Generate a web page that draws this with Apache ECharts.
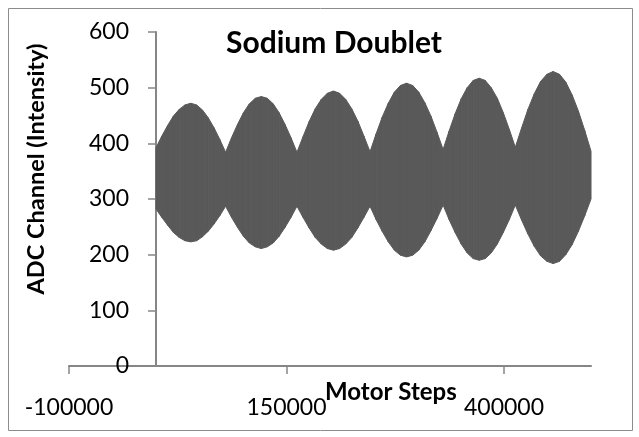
<!DOCTYPE html>
<html>
<head>
<meta charset="utf-8">
<script src="https://cdn.jsdelivr.net/npm/echarts@6/dist/echarts.min.js"></script>
<style>
html,body{margin:0;padding:0;background:#fff;}
#chart{width:639px;height:437px;}
</style>
</head>
<body>
<div id="chart"></div>
<script>
// Motor step positions sampled along the recorded envelope
const steps = [
  0, 6667, 13333, 20000, 26667, 33333, 40000, 46667, 53333, 60000, 66667, 73333, 80000,
  86800, 93700, 100500, 107300, 114200, 121000, 127800, 134700, 141500, 148300, 155200, 162000,
  169000, 176000, 183000, 190000, 197000, 204000, 211000, 218000, 225000, 232000, 239000, 246000,
  253000, 260000, 267000, 274000, 281000, 288000, 295000, 302000, 309000, 316000, 323000, 330000,
  336900, 343800, 350800, 357700, 364600, 371500, 378400, 385300, 392300, 399200, 406100, 413000,
  420300, 427500, 434800, 442000, 449300, 456500, 463800, 471000, 478300, 485500, 492800, 500000
];
// Upper edge of the ADC readings (intensity)
const upperEnv = [
  392, 413, 432, 449, 461, 469, 472, 469, 460, 446, 428, 407, 384,
  410, 434, 455, 471, 481, 484, 481, 471, 455, 434, 410, 384,
  412, 439, 462, 479, 490, 494, 490, 479, 462, 440, 413, 385,
  417, 447, 472, 492, 504, 508, 504, 492, 473, 449, 420, 389,
  422, 453, 480, 500, 513, 517, 513, 500, 481, 455, 425, 393,
  428, 461, 489, 511, 524, 529, 524, 510, 487, 458, 423, 386
];
// Lower edge of the ADC readings (intensity)
const lowerEnv = [
  282, 267, 253, 240, 231, 225, 223, 225, 232, 242, 255, 270, 287,
  267, 249, 233, 221, 214, 211, 214, 221, 233, 249, 267, 287,
  267, 248, 231, 219, 211, 208, 211, 219, 231, 248, 267, 287,
  263, 242, 223, 208, 199, 196, 199, 208, 223, 243, 265, 289,
  263, 240, 219, 203, 193, 190, 193, 203, 219, 240, 263, 289,
  262, 237, 215, 198, 188, 184, 188, 200, 218, 242, 270, 300
];
const xTicks = [-100000, 150000, 400000];
const yTicks = [0, 100, 200, 300, 400, 500, 600];

// one segment per pair of consecutive samples: [x0, lo0, hi0, x1, lo1, hi1]
const segData = [];
for (let i = 0; i < steps.length - 1; i++) {
  segData.push([steps[i], lowerEnv[i], upperEnv[i], steps[i + 1], lowerEnv[i + 1], upperEnv[i + 1]]);
}

const chart = echarts.init(document.getElementById('chart'), null, {renderer: 'canvas'});
const axisColor = '#868686';
const dataColor = '#595959';
const font = 'Lato, "Liberation Sans", sans-serif';

chart.setOption({
  animation: false,
  backgroundColor: '#ffffff',
  grid: {left: 69, right: 48, top: 32, bottom: 71, containLabel: false, outerBoundsMode: 'none'},
  xAxis: {
    type: 'value',
    min: -100000, max: 500000, interval: 250000,
    axisLine: {show: true, onZero: false, lineStyle: {color: axisColor, width: 2}},
    axisTick: {show: true, length: 8, lineStyle: {color: axisColor, width: 1.5}, customValues: xTicks},
    axisLabel: {color: '#000', fontFamily: font, fontSize: 23, margin: 30, customValues: xTicks,
      formatter: v => String(v)},
    splitLine: {show: false}
  },
  yAxis: {
    type: 'value',
    min: 0, max: 600, interval: 100,
    offset: -87,
    axisLine: {show: true, onZero: false, lineStyle: {color: axisColor, width: 2}},
    axisTick: {show: true, length: 8, lineStyle: {color: axisColor, width: 1.5}, customValues: yTicks},
    axisLabel: {color: '#000', fontFamily: font, fontSize: 23, margin: 27, customValues: yTicks},
    splitLine: {show: false}
  },
  series: [
    {
      type: 'custom',
      data: segData,
      encode: {x: [0, 3], y: [1, 2, 4, 5]},
      silent: true,
      z: 3,
      renderItem: function (params, api) {
        const p1 = api.coord([api.value(0), api.value(1)]);
        const p2 = api.coord([api.value(0), api.value(2)]);
        const p3 = api.coord([api.value(3), api.value(5)]);
        const p4 = api.coord([api.value(3), api.value(4)]);
        return {
          type: 'polygon',
          shape: {points: [p1, p2, p3, p4]},
          style: {fill: dataColor, stroke: dataColor, lineWidth: 1}
        };
      }
    }
  ],
  graphic: [
    {type: 'rect', z: 100, shape: {x: 8.5, y: 8.5, width: 624, height: 422},
      style: {fill: 'none', stroke: '#8c8c8c', lineWidth: 1}},
    {type: 'text', z: 100, x: 334, y: 43, style: {text: 'Sodium Doublet', fontFamily: font, fontWeight: 'bold',
      fontSize: 30, fill: '#000', textAlign: 'center', textVerticalAlign: 'middle'}},
    {type: 'text', z: 100, x: 325, y: 392, style: {text: 'Motor Steps', fontFamily: font, fontWeight: 'bold',
      fontSize: 24, fill: '#000', textAlign: 'left', textVerticalAlign: 'middle'}},
    {type: 'text', z: 100, x: 36, y: 169, rotation: Math.PI / 2, style: {text: 'ADC Channel (Intensity)', fontFamily: font,
      fontWeight: 'bold', fontSize: 23.5, fill: '#000', textAlign: 'center', textVerticalAlign: 'middle'}}
  ]
});
</script>
</body>
</html>
